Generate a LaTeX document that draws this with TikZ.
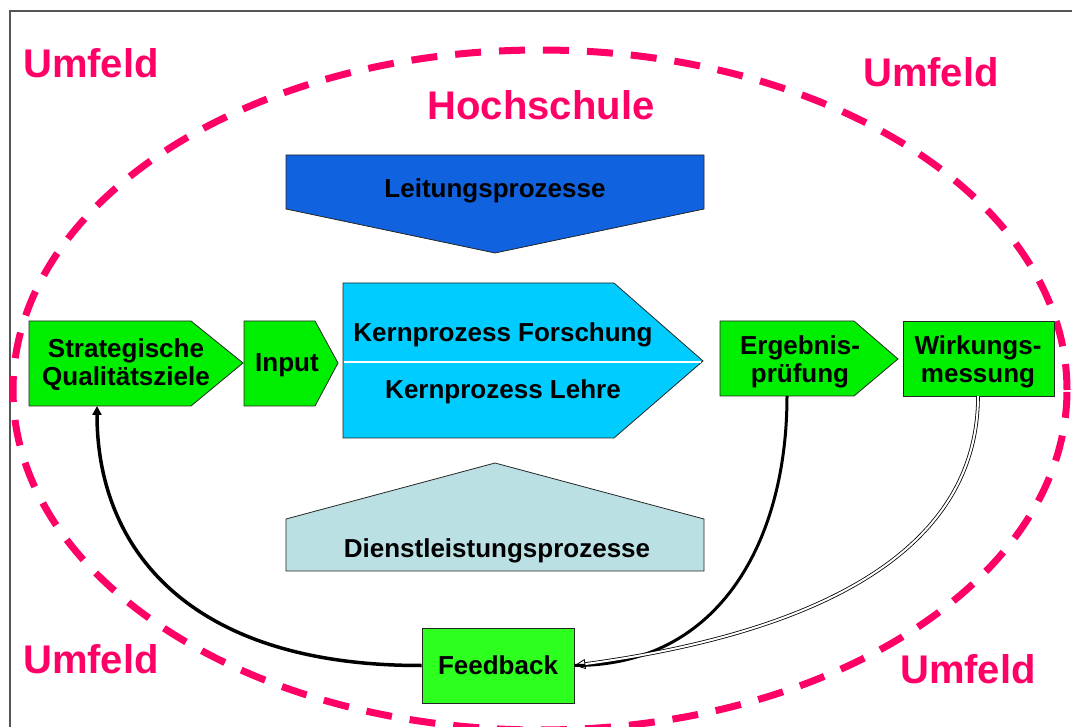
\documentclass[tikz,border=0pt]{standalone}
\usepackage{fontspec}
\setmainfont{Liberation Sans}
\usetikzlibrary{arrows.meta}
\definecolor{pinkc}{RGB}{255,0,102}
\definecolor{darkblue}{RGB}{16,98,222}
\definecolor{cyanc}{RGB}{0,204,255}
\definecolor{lightc}{RGB}{186,224,227}
\definecolor{greenc}{RGB}{0,238,0}
\definecolor{fbgreen}{RGB}{45,255,30}
\definecolor{framec}{RGB}{85,85,85}
\begin{document}
\begin{tikzpicture}[x=1pt,y=-1pt,
  shapeline/.style={draw=black!85, line width=0.8pt},
  boxtext/.style={font=\fontsize{26}{28}\selectfont\bfseries, align=center, inner sep=0pt},
  umfeld/.style={font=\fontsize{40}{44}\selectfont\bfseries, text=pinkc, inner sep=0pt},
  conn/.style={line width=3.5pt, black},
]
\useasboundingbox (0,0) rectangle (1072,727);
% frame
\draw[framec, line width=1.5pt] (1090,11) -- (10,11) -- (10,745);
% environment ellipse
\draw[pinkc, line width=7pt, dash pattern=on 26pt off 18pt] (540,390) ellipse [x radius=527pt, y radius=340pt];
% labels
\node[umfeld, anchor=base west] (u1) at (23,78) {Umfeld};
\node[umfeld, anchor=base west] (u2) at (863,87) {Umfeld};
\node[umfeld, anchor=base west] (u3) at (23,673) {Umfeld};
\node[umfeld, anchor=base west] (u4) at (900,683) {Umfeld};
\node[umfeld, anchor=base] (hs) at (541,120) {Hochschule};
% Leitungsprozesse
\draw[shapeline, fill=darkblue] (286,155) -- (704,155) -- (704,209) -- (495,253) -- (286,209) -- cycle;
\node[boxtext, anchor=base] (leit) at (495,198) {Leitungsprozesse};
% Kernprozesse
\draw[shapeline, fill=cyanc] (343,283) -- (614,283) -- (703,361) -- (614,438) -- (343,438) -- cycle;
\draw[white, line width=2pt] (344,362) -- (701,362);
\node[boxtext, anchor=base] (kf) at (503,342) {Kernprozess Forschung};
\node[boxtext, anchor=base] (kl) at (503,399) {Kernprozess Lehre};
% Dienstleistungsprozesse
\draw[shapeline, fill=lightc] (286,571) -- (286,519) -- (495,463) -- (704,519) -- (704,571) -- cycle;
\node[boxtext, anchor=base] (dl) at (497,557) {Dienstleistungsprozesse};
% Strategische Qualitaetsziele
\draw[shapeline, fill=greenc] (29,321) -- (191,321) -- (243,363) -- (191,406) -- (29,406) -- cycle;
\node[boxtext] (sq) at (126,364.5) {Strategische\\Qualitätsziele};
\coordinate (sqin) at (97,406);
% Input
\draw[shapeline, fill=greenc] (244,321) -- (315,321) -- (338,363) -- (315,406) -- (244,406) -- cycle;
\node[boxtext, anchor=base] (inp) at (287,372) {Input};
% Ergebnispruefung
\draw[shapeline, fill=greenc] (720,321) -- (854,321) -- (898,359) -- (854,396) -- (720,396) -- cycle;
\node[boxtext] (erg) at (800,362) {Ergebnis-\\prüfung};
\coordinate (ergout) at (787,396);
% Wirkungsmessung
\draw[shapeline, fill=greenc] (903,321) rectangle (1054,396);
\node[boxtext] (wirk) at (978,362) {Wirkungs-\\messung};
\coordinate (wirkout) at (978,396);
% Feedback
\node[shapeline, fill=fbgreen, minimum width=152pt, minimum height=75pt, font=\fontsize{26}{28}\selectfont\bfseries, inner sep=0pt] (fb) at (498,665.5) {Feedback};
% connectors
\draw[conn, -{Triangle[length=9pt,width=9pt]}] (fb.west) .. controls (190,666) and (97,550) .. (sqin);
\draw[line width=3pt] (ergout) .. controls (787,540) and (720,666) .. (fb.east);
\draw[line width=0.8pt, double, double distance=2pt, -{Triangle[open,length=11pt,width=10pt]}] (wirkout) .. controls (978,560) and (800,635) .. (fb.east);
\end{tikzpicture}
\end{document}
